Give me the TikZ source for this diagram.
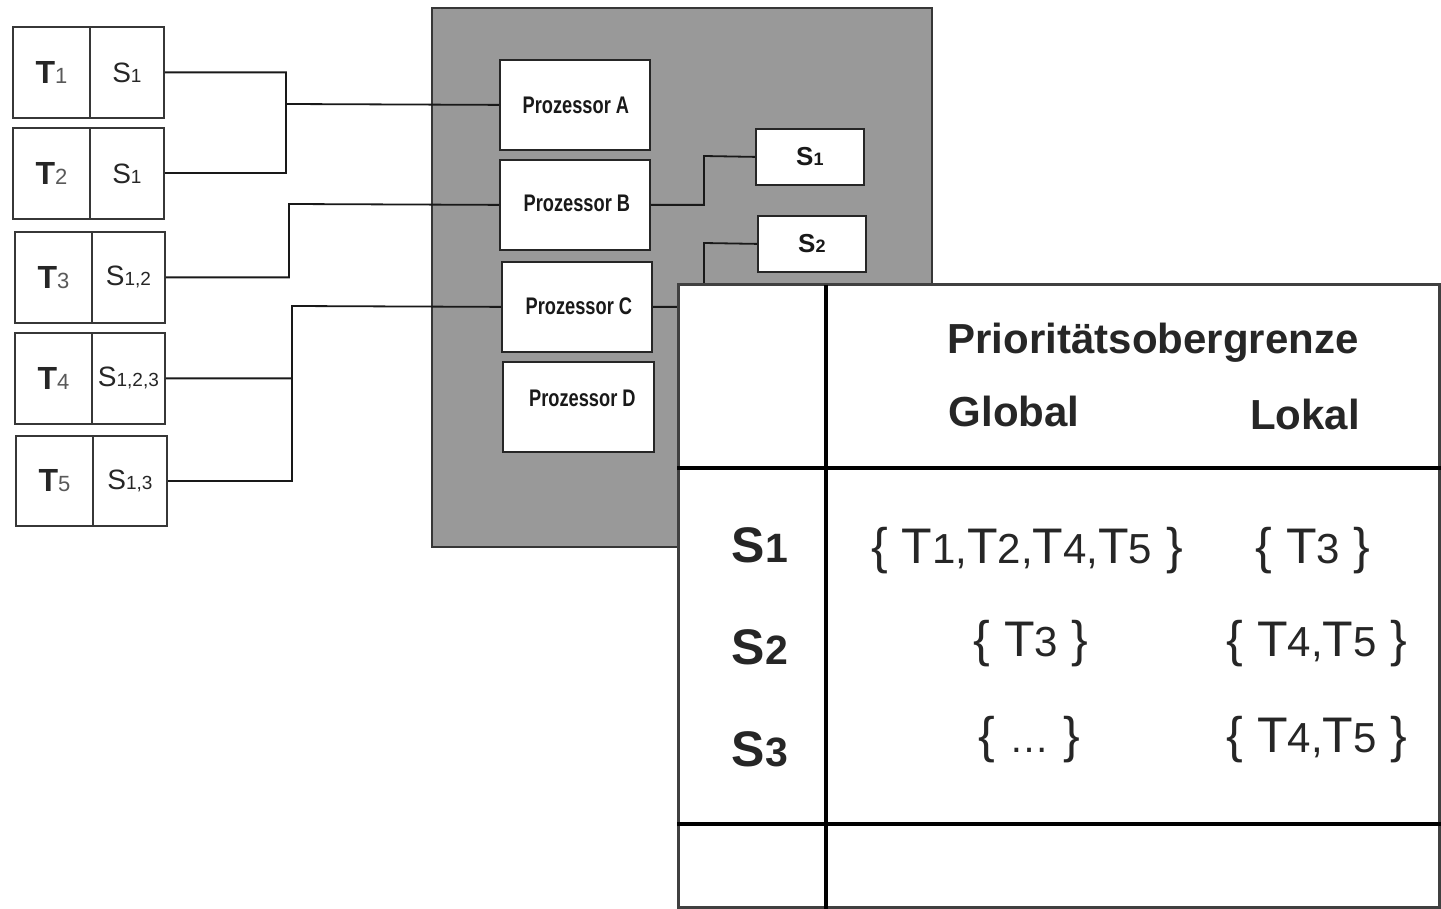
\documentclass[tikz,border=0pt]{standalone}
\usepackage{fontspec}
\setmainfont{Liberation Sans}
\newfontfamily\narrowbf{Liberation Sans}[FakeStretch=0.76]
\usetikzlibrary{calc}
\definecolor{panelgray}{RGB}{153,153,153}
\definecolor{edgegray}{RGB}{55,55,55}
\newcommand\fsz[1]{\fontsize{#1}{#1}\selectfont}
\newcommand\tcell[1]{{\fsz{32}\bfseries T}{\fsz{22}\color{black!65}#1}}
\newcommand\scell[1]{{\fsz{28}S}{\fsz{19}#1}}
\newcommand\reslab[1]{{\fsz{26}\bfseries S}{\fsz{18}\bfseries #1}}
\newcommand\rowlab[1]{{\fsz{50}\bfseries S}{\fsz{41}\bfseries #1}}
\newcommand\tnum[1]{T{\fsz{42}#1}}
\newcommand\bgap{\hspace{0.28em}}
\begin{document}
\begin{tikzpicture}[x=1pt,y=-1pt,
  taskcell/.style={draw=edgegray,line width=1.8pt,fill=white,minimum height=91pt,inner sep=0pt,anchor=north west,text=black!85},
  proc/.style={draw=black!85,line width=1.8pt,fill=white,minimum width=150pt,minimum height=90pt,inner sep=0pt,anchor=north west},
  proctext/.style={inner sep=0pt,font=\narrowbf\bfseries\fsz{24},text=black!90},
  resbox/.style={draw=black!85,line width=1.8pt,fill=white,minimum width=108pt,minimum height=56pt,inner sep=0pt,anchor=north west,text=black!90},
  conn/.style={draw=black!90,line width=1.8pt},
  tablerule/.style={line width=4.5pt,black},
  cellt/.style={anchor=base,inner sep=0pt,text=black!85,font=\fsz{50}},
  hdr/.style={anchor=base,inner sep=0pt,text=black!85,font=\bfseries\fsz{42}},
]
\useasboundingbox (0,0) rectangle (1441,909);

% processor panel
\fill[panelgray, draw=edgegray, line width=1.6pt] (432,8) rectangle (932,547);

% task boxes
\node[taskcell,minimum width=77pt] (t1) at (12,26) {\tcell{1}};
\node[taskcell,minimum width=74pt] (s1) at (89,26) {\scell{1}};
\node[taskcell,minimum width=77pt] (t2) at (12,127) {\tcell{2}};
\node[taskcell,minimum width=74pt] (s2) at (89,127) {\scell{1}};
\node[taskcell,minimum width=77pt] (t3) at (14,231) {\tcell{3}};
\node[taskcell,minimum width=73pt] (s3) at (91,231) {\scell{1,2}};
\node[taskcell,minimum width=77pt] (t4) at (14,332) {\tcell{4}};
\node[taskcell,minimum width=73pt] (s4) at (91,332) {\scell{1,2,3}};
\node[taskcell,minimum width=77pt,minimum height=90pt] (t5) at (15,435) {\tcell{5}};
\node[taskcell,minimum width=74pt,minimum height=90pt] (s5) at (92,435) {\scell{1,3}};

% processors
\node[proc] (pA) at (499,59) {};
\node[proctext] (pAt) at ($(pA.center)+(1,0)$) {Prozessor A};
\node[proc] (pB) at (499,159) {};
\node[proctext] (pBt) at ($(pB.center)+(2,-2)$) {Prozessor B};
\node[proc] (pC) at (501,261) {};
\node[proctext] (pCt) at ($(pC.center)+(2,-1)$) {Prozessor C};
\node[proc,minimum width=151pt] (pD) at (502,361) {};
\node[proctext] (pDt) at ($(pD.center)+(4,-9)$) {Prozessor D};

% resources
\node[resbox] (r1) at (755,128) {\reslab{1}};
\node[resbox] (r2) at (757,215) {\reslab{2}};

% junctions
\coordinate (jA) at (286,104);
\coordinate (jB) at (289,204);
\coordinate (jC) at (292,306);
\coordinate (kB) at (704,156);
\coordinate (kC) at (704,243);

\draw[conn] (s1.east) -| (jA) -- (pA.west);
\draw[conn] (s2.east) -| (jA);
\draw[conn] (s3.east) -| (jB) -- (pB.west);
\draw[conn] (s4.east) -| (jC) -- (pC.west);
\draw[conn] (s5.east) -| (jC);
\draw[conn] (pB.east) -| (kB) -- (r1.west);
\draw[conn] (pC.east) -| (kC) -- (r2.west);

% table
\fill[white] (677,285) rectangle (1441,909);
\draw[draw=black!75, line width=3pt] (678,285) rectangle (1439,907);
\draw[tablerule] (826,285) -- (826,909);
\draw[tablerule] (677,468) -- (1441,468);
\draw[tablerule] (677,824) -- (1441,824);

\node[hdr] (hP) at (1153,354) {Prioritätsobergrenze};
\node[hdr] (hG) at (1014,426) {Global};
\node[hdr] (hL) at (1305,429) {Lokal};

\node[cellt] (l1) at (760,562) {\rowlab{1}};
\node[cellt] (l2) at (760,664) {\rowlab{2}};
\node[cellt] (l3) at (760,766) {\rowlab{3}};

\node[cellt] (g1) at (1027,563) {\{\bgap\tnum{1,}\tnum{2,}\tnum{4,}\tnum{5}\bgap\}};
\node[cellt] (o1) at (1313,563) {\{\bgap\tnum{3}\bgap\}};
\node[cellt] (g2) at (1031,656) {\{\bgap\tnum{3}\bgap\}};
\node[cellt] (o2) at (1317,656) {\{\bgap\tnum{4,}\tnum{5}\bgap\}};
\node[cellt] (g3) at (1029,752) {\{\bgap{\fsz{40}…}\bgap\}};
\node[cellt] (o3) at (1317,752) {\{\bgap\tnum{4,}\tnum{5}\bgap\}};
\end{tikzpicture}
\end{document}
